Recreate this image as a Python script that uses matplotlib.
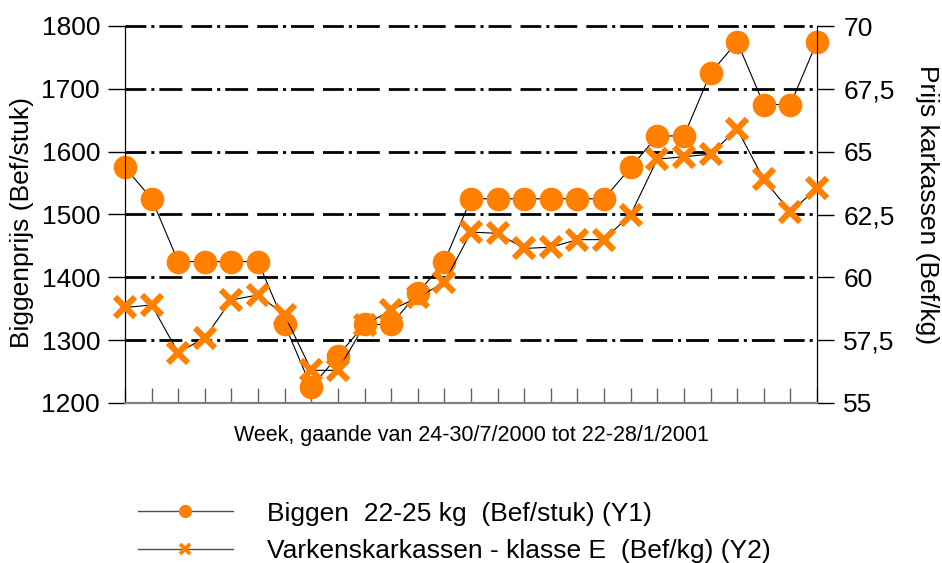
import matplotlib.pyplot as plt
import numpy as np
from matplotlib.lines import Line2D

plt.rcParams['font.family'] = ['Liberation Sans', 'DejaVu Sans']
plt.rcParams['lines.scale_dashes'] = False

# Prijzen per week (24-30/7/2000 t/m 22-28/1/2001)
biggen = [1575, 1525, 1425, 1425, 1425, 1425, 1325, 1225, 1275, 1325, 1325, 1375, 1425,
          1525, 1525, 1525, 1525, 1525, 1525, 1575, 1625, 1625, 1725, 1775, 1675, 1675, 1775]
karkassen = [58.8, 58.9, 57.0, 57.6, 59.1, 59.3, 58.5, 56.3, 56.3, 58.1, 58.7, 59.2, 59.8,
             61.8, 61.75, 61.15, 61.2, 61.5, 61.5, 62.5, 64.7, 64.8, 64.9, 65.9, 63.9, 62.6, 63.55]
y1_ticks = [1200, 1300, 1400, 1500, 1600, 1700, 1800]
y2_ticks = [55, 57.5, 60, 62.5, 65, 67.5, 70]
y2_labels = ['55', '57,5', '60', '62,5', '65', '67,5', '70']

oranje = '#ff8000'
weken = np.arange(len(biggen))

fig = plt.figure(figsize=(9.42, 5.63), dpi=100)
ax = fig.add_axes([125/942, 1-403/563, (817-125)/942, (403-26)/563])
ax2 = ax.twinx()

# raster
streep = (0, (15, 3.6, 2.2, 3.6, 16.5, 6.5))
for t in y1_ticks[1:]:
    ax.axhline(t, color='black', lw=2.0, linestyle=streep, zorder=1, clip_on=False)

ax.plot(weken, biggen, color='black', lw=0.8, marker='o', ms=16,
        mfc=oranje, mec=oranje, zorder=3, clip_on=False)
ax2.plot(weken, karkassen, color='black', lw=0.8, marker='x', ms=15,
         mec=oranje, mew=4.4, zorder=3, clip_on=False)

ax.set_xlim(0, len(biggen) - 1)
ax.set_ylim(1200, 1800)
ax2.set_ylim(55, 70)
ax.set_yticks(y1_ticks)
ax2.set_yticks(y2_ticks)
ax2.set_yticklabels(y2_labels)
ax.set_xticks(weken)
ax.set_xticklabels([])

for a in (ax, ax2):
    a.spines['top'].set_visible(False)
    a.spines['left'].set_color('black')
    a.spines['right'].set_color('black')
    a.spines['bottom'].set_color('#808080')
    a.spines['bottom'].set_linewidth(1.5)
ax.tick_params(axis='x', direction='in', length=11, color='#606060', width=1)
ax.tick_params(axis='y', direction='out', length=12, width=1, labelsize=19, pad=6)
ax2.tick_params(axis='y', direction='out', length=12, width=1, labelsize=19, pad=7)

ax.set_xlabel('Week, gaande van 24-30/7/2000 tot 22-28/1/2001', fontsize=15.5, labelpad=12)
fig.text(22/942, 1-222/563, 'Biggenprijs (Bef/stuk)', rotation=90, fontsize=19,
         ha='center', va='center')
fig.text(927/942, 1-205/563, 'Prijs karkassen (Bef/kg)', rotation=270, fontsize=19,
         ha='center', va='center')

# legenda
handles = [Line2D([], [], color='#505050', lw=1, marker='o', ms=8.5, mfc=oranje, mec=oranje),
           Line2D([], [], color='#505050', lw=1, marker='x', ms=7, mec=oranje, mew=2.8)]
labels = ['Biggen  22-25 kg  (Bef/stuk) (Y1)',
          'Varkenskarkassen - klasse E  (Bef/kg) (Y2)']
fig.legend(handles, labels, loc='upper left', bbox_to_anchor=(127/942, 1-491/563),
           frameon=False, fontsize=19, handlelength=3.6, handletextpad=1.3,
           labelspacing=0.52, borderaxespad=0)

fig.savefig('out.png', dpi=100)
